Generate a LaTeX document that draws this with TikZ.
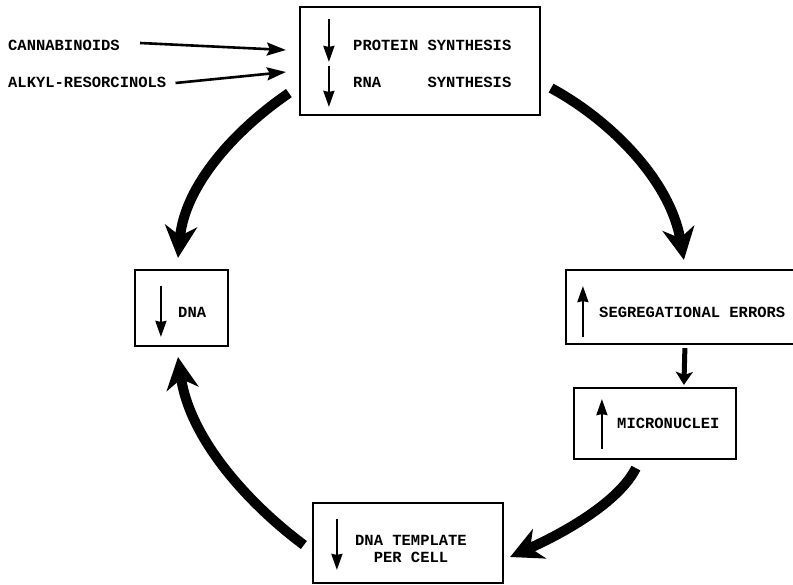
\documentclass[tikz,border=0pt]{standalone}
\usepackage{fontspec}
\setmainfont{Liberation Mono}
\usetikzlibrary{arrows.meta}
\begin{document}
\begin{tikzpicture}[x=1pt,y=-1pt,
  box/.style={draw,line width=2.2pt,inner sep=0pt},
  lbl/.style={inner sep=0pt,anchor=west,font=\fontsize{15.5}{17}\selectfont\bfseries},
  inarrow/.style={line width=2.2pt,-{Stealth[length=16pt,width=11pt,inset=1pt]}},
  feed/.style={line width=2.6pt,-{Stealth[length=19pt,width=13pt,inset=3pt]}},
  bigarrow/.style={line width=10pt,line cap=butt,-{Stealth[length=32pt,width=32pt,inset=10pt]}}]
\useasboundingbox (0,0) rectangle (793,585);
\clip (0,0) rectangle (793,585);
% boxes
\node[box,minimum width=240pt,minimum height=108pt] (top) at (420,61) {};
\node[box,minimum width=93pt,minimum height=76pt] (dna) at (181.5,308) {};
\node[box,minimum width=254pt,minimum height=74pt] (seg) at (693,307) {};
\node[box,minimum width=162pt,minimum height=71pt] (mic) at (655,423.5) {};
\node[box,minimum width=190pt,minimum height=80pt] (tmpl) at (408,543) {};
% texts
\node[lbl] (prot) at (353,45) {PROTEIN SYNTHESIS};
\node[lbl] (rna) at (353,82) {RNA~~~~~SYNTHESIS};
\node[lbl] (cann) at (8,45) {CANNABINOIDS};
\node[lbl] (alkyl) at (8,82) {ALKYL-RESORCINOLS};
\node[lbl] (dnat) at (178,312) {DNA};
\node[lbl] (segt) at (599,312) {SEGREGATIONAL ERRORS};
\node[lbl] (mict) at (617,423) {MICRONUCLEI};
\node[inner sep=0pt,align=center,font=\fontsize{15.5}{17}\selectfont\bfseries] (tmplt) at (411,549) {DNA TEMPLATE\\PER CELL};
% arrows inside boxes
\draw[inarrow] ([xshift=30pt,yshift=-13pt]top.north west) -- ([xshift=30pt,yshift=-56pt]top.north west);
\draw[inarrow] ([xshift=30pt,yshift=-60pt]top.north west) -- ([xshift=30pt,yshift=-101pt]top.north west);
\draw[inarrow] ([xshift=27pt,yshift=-17pt]dna.north west) -- ([xshift=27pt,yshift=-68pt]dna.north west);
\draw[inarrow] ([xshift=18pt,yshift=8pt]seg.south west) -- ([xshift=18pt,yshift=59pt]seg.south west);
\draw[inarrow] ([xshift=29pt,yshift=11pt]mic.south west) -- ([xshift=29pt,yshift=61pt]mic.south west);
\draw[inarrow] ([xshift=25pt,yshift=-17pt]tmpl.north west) -- ([xshift=25pt,yshift=-68pt]tmpl.north west);
% inhibitor arrows
\draw[feed] ([xshift=20pt,yshift=2pt]cann.east) -- ([xshift=-13pt,yshift=11pt]top.west);
\draw[feed] ([xshift=9pt,yshift=-1pt]alkyl.east) -- ([xshift=-13pt,yshift=-11pt]top.west);
% cycle arrows
\draw[bigarrow] ([xshift=-10pt,yshift=23pt]top.south west) .. controls (235,130) and (185,185) .. ([xshift=-3.5pt,yshift=11pt]dna.north);
\draw[bigarrow] ([xshift=10pt,yshift=28pt]top.south east) .. controls (610,120) and (670,180) .. ([xshift=119pt,yshift=9pt]seg.north west);
\draw[line width=5pt,-{Stealth[length=13pt,width=17pt,inset=3pt]}] ([xshift=120pt,yshift=-3pt]seg.south west) -- ([xshift=111pt,yshift=2pt]mic.north west);
\draw[bigarrow] ([xshift=63pt,yshift=-8pt]mic.south west) .. controls (620,500) and (570,530) .. ([xshift=6pt,yshift=-14pt]tmpl.east);
\draw[bigarrow] ([xshift=-8pt,yshift=-2pt]tmpl.west) .. controls (250,505) and (190,440) .. ([xshift=-3.5pt,yshift=-10pt]dna.south);
\end{tikzpicture}
\end{document}
